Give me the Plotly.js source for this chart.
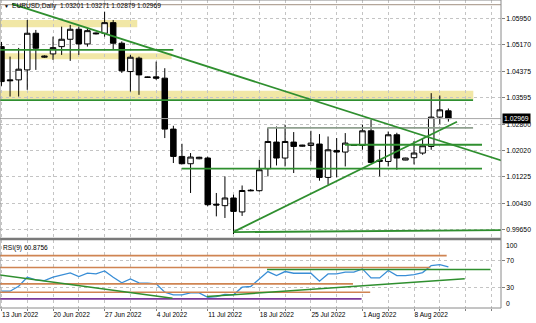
<!DOCTYPE html>
<html><head><meta charset="utf-8">
<script src="https://cdn.plot.ly/plotly-3.0.1.min.js"></script>
<style>html,body{margin:0;padding:0;background:#fff;}#chart{width:536px;height:323px;}</style>
</head><body><div id="chart"></div>
<script>
// ---- data (EURUSD Daily, MT4 broker with Sunday bars) ----
const barDates = ['2022-06-13','2022-06-14','2022-06-15','2022-06-16','2022-06-17','2022-06-19',
'2022-06-20','2022-06-21','2022-06-22','2022-06-23','2022-06-24','2022-06-26',
'2022-06-27','2022-06-28','2022-06-29','2022-06-30','2022-07-01','2022-07-03',
'2022-07-04','2022-07-05','2022-07-06','2022-07-07','2022-07-08','2022-07-10',
'2022-07-11','2022-07-12','2022-07-13','2022-07-14','2022-07-15','2022-07-17',
'2022-07-18','2022-07-19','2022-07-20','2022-07-21','2022-07-22','2022-07-24',
'2022-07-25','2022-07-26','2022-07-27','2022-07-28','2022-07-29','2022-07-31',
'2022-08-01','2022-08-02','2022-08-03','2022-08-04','2022-08-05','2022-08-07',
'2022-08-08','2022-08-09','2022-08-10','2022-08-11','2022-08-12'];
const openP = [1.05120,1.04126,1.04126,1.04424,1.05519,1.04803,1.04902,1.05120,1.05340,1.05639,1.05200,1.05528,
1.05519,1.05836,1.05221,1.04374,1.04774,1.04213,1.04216,1.04177,1.02655,1.01838,1.01620,1.01769,
1.01790,1.00411,1.00367,1.00596,1.00180,1.00829,1.00814,1.01471,1.02267,1.01790,1.02267,1.02142,
1.02166,1.02208,1.01211,1.02017,1.01969,1.02187,1.02166,1.02604,1.01688,1.01688,1.02485,1.01730,
1.01800,1.01939,1.02136,1.03013,1.03201];
const highP = [1.05260,1.04821,1.05081,1.05916,1.05618,1.04857,1.05418,1.05716,1.05767,1.05716,1.05669,1.05543,
1.06164,1.05916,1.05275,1.04872,1.04821,1.04225,1.04672,1.04475,1.02754,1.02217,1.01939,1.01829,
1.01829,1.00746,1.01241,1.00695,1.00970,1.00859,1.01739,1.02685,1.02733,1.02783,1.02566,1.02187,
1.02604,1.02506,1.02434,1.02387,1.02536,1.02196,1.02783,1.02933,1.02037,1.02583,1.02545,1.01799,
1.02300,1.02366,1.03729,1.03658,1.03271];
const lowP = [1.03947,1.03628,1.03628,1.03828,1.04424,1.04783,1.04723,1.04872,1.04693,1.04872,1.05120,1.05484,
1.05418,1.05021,1.04335,1.03777,1.03679,1.04186,1.04126,1.02387,1.01641,1.01605,1.00746,1.01754,
1.00352,1.00047,0.99999,0.99520,1.00060,1.00799,1.00784,1.01241,1.01569,1.01539,1.01342,1.02127,
1.01688,1.01113,1.00993,1.01211,1.01539,1.02157,1.02037,1.01635,1.01241,1.01539,1.01441,1.01724,
1.01600,1.01888,1.02037,1.02804,1.02879];
const closeP = [1.04075,1.04102,1.04445,1.05519,1.05072,1.04833,1.05090,1.05340,1.05639,1.05200,1.05597,1.05505,
1.05836,1.05221,1.04395,1.04803,1.04275,1.04201,1.04177,1.02655,1.01838,1.01620,1.01820,1.01814,
1.00396,1.00387,1.00596,1.00196,1.00820,1.00814,1.01441,1.02285,1.01790,1.02285,1.02136,1.02172,
1.02237,1.01211,1.02037,1.01969,1.02237,1.02166,1.02604,1.01659,1.01724,1.02485,1.01790,1.01790,
1.01940,1.02157,1.03013,1.03231,1.02969];
const rsi9 = [24.9,24.9,32.3,45.7,41.7,40.7,45.7,49.1,52.1,46.7,51.6,50.6,
55.1,45.7,37.3,43.2,37.3,36.8,35.8,23.5,19.5,19.5,22.5,22.5,
16.0,17.0,20.0,19.5,30.9,31.9,43.2,54.1,48.1,54.1,51.6,51.6,
51.6,39.8,50.6,50.6,53.1,53.1,58.0,44.7,44.7,55.6,48.1,48.1,
49.6,52.6,63.0,64.4,60.8756];
const priceTicks = ['1.05950','1.05170','1.04375','1.03595','1.02800','1.02020','1.01225','1.00430','0.99650'];
const rsiLevels = [70, 30];
const rsiScale = [100, 0];
const monthNames = ['Jan','Feb','Mar','Apr','May','Jun','Jul','Aug','Sep','Oct','Nov','Dec'];

// drawn objects (bar position, price / RSI value)
const zoneEnd = [15.8, 19.8, 54.9];
const zoneLow = [1.05698, 1.04744, 1.03544];
const zoneHigh = [1.05916, 1.04923, 1.03798];
const levelPrice = [1.05021, 1.03520, 1.02694, 1.02187, 1.01471];
const levelFrom = [-0.5, -0.5, 30.93, 39.97, 20.97];
const levelTo = [20.0, 54.87, 54.87, 55.91, 55.91];
const levelGray = [false, false, true, false, false];
const trendFromBar = [1.23, 27.0, 27.0];
const trendFromPrice = [1.06394, 0.99582, 0.99576];
const trendToBar = [58.2, 53.0, 58.2];
const trendToPrice = [1.01713, 1.02873, 0.99636];
const topLinePrice = 1.06373;
const rsiHLevel = [77.8, 60.0, 35.8, 23.4, 13.6];
const rsiHTo = [51.8, 49.9, 40.9, 42.9, 41.9];
const rsiHPurple = [false, false, false, false, true];
const rsiTrendFromBar = [-0.5, 23.9, 30.9];
const rsiTrendFromVal = [49.6, 17.0, 57.0];
const rsiTrendToBar = [19.9, 53.9, 56.9];
const rsiTrendToVal = [14.5, 43.3, 57.0];

// ---- build ----
const idx = barDates.map((d, i) => i);
const last = barDates.length - 1;
const tickIdx = [], tickTxt = [];
barDates.forEach((d, i) => {
  const dt = new Date(d + 'T00:00:00Z');
  if (dt.getUTCDay() === 1) { tickIdx.push(i); tickTxt.push(dt.getUTCDate() + ' ' + monthNames[dt.getUTCMonth()] + ' ' + dt.getUTCFullYear()); }
});

const GREEN = '#2f8f2f', GRID = '#c4c4c4', ORANGE = '#cf8452', PURPLE = '#7b3a9a';
const traces = [
  {type:'candlestick', x:idx, open:openP, high:highP, low:lowP, close:closeP, xaxis:'x', yaxis:'y',
   increasing:{line:{color:'#000', width:1}, fillcolor:'#ffffff'},
   decreasing:{line:{color:'#000', width:1}, fillcolor:'#000000'},
   whiskerwidth:0, hoverinfo:'skip', showlegend:false},
  {type:'scatter', mode:'lines', x:idx, y:rsi9, xaxis:'x', yaxis:'y2',
   line:{color:'#3a8ed6', width:1.3}, hoverinfo:'skip', showlegend:false}
];

const shapes = [];
zoneEnd.forEach((e, k) => shapes.push({type:'rect', xref:'x', yref:'y', x0:-0.5, x1:e, y0:zoneLow[k], y1:zoneHigh[k],
  fillcolor:'#f1e7a6', line:{width:0}, layer:'below'}));
shapes.push({type:'line', xref:'paper', yref:'y', x0:0, x1:1, y0:topLinePrice, y1:topLinePrice, line:{color:'#b4a69a', width:1.2}});
shapes.push({type:'line', xref:'paper', yref:'y', x0:0, x1:1, y0:closeP[last], y1:closeP[last], line:{color:'#a8a8a8', width:1}});
levelPrice.forEach((p, k) => shapes.push({type:'line', xref:'x', yref:'y', x0:levelFrom[k], x1:levelTo[k], y0:p, y1:p,
  line:{color: levelGray[k] ? '#8fa08f' : GREEN, width:1.8}}));
trendFromBar.forEach((b, k) => shapes.push({type:'line', xref:'x', yref:'y', x0:b, x1:trendToBar[k], y0:trendFromPrice[k], y1:trendToPrice[k],
  line:{color:GREEN, width:1.8}}));
rsiHLevel.forEach((v, k) => shapes.push({type:'line', xref:'x', yref:'y2', x0:-0.5, x1:rsiHTo[k], y0:v, y1:v,
  line:{color: rsiHPurple[k] ? PURPLE : ORANGE, width:1.6}}));
rsiTrendFromBar.forEach((b, k) => shapes.push({type:'line', xref:'x', yref:'y2', x0:b, x1:rsiTrendToBar[k], y0:rsiTrendFromVal[k], y1:rsiTrendToVal[k],
  line:{color:GREEN, width:1.5}}));
// panel separator and frame
shapes.push({type:'line', xref:'paper', yref:'paper', x0:0, x1:1, y0:0.2237, y1:0.2237, line:{color:'#7a7a7a', width:2.5}});
shapes.push({type:'rect', xref:'paper', yref:'paper', x0:0, x1:1, y0:0, y1:1, line:{color:'#8a8a8a', width:1}, fillcolor:'rgba(0,0,0,0)'});

const FONT = 'Liberation Sans, Arial, sans-serif';
const annotations = [
  {xref:'paper', yref:'paper', x:0, y:1, xanchor:'left', yanchor:'top', xshift:2, yshift:-1, showarrow:false,
   text:'▼', font:{size:5, color:'#000', family:FONT}},
  {xref:'paper', yref:'paper', x:0, y:1, xanchor:'left', yanchor:'top', xshift:10, yshift:0, showarrow:false,
   text:'EURUSD,Daily  ' + [openP[last], highP[last], lowP[last], closeP[last]].map(v => v.toFixed(5)).join(' '),
   font:{size:6.6, color:'#000', family:FONT}},
  {xref:'paper', yref:'paper', x:0, y:0.2204, xanchor:'left', yanchor:'top', xshift:1, yshift:-2, showarrow:false,
   text:'RSI(9) ' + rsi9[last].toFixed(4), font:{size:6.6, color:'#000', family:FONT}},
  {xref:'paper', yref:'y', x:1, y:closeP[last], xanchor:'left', yanchor:'middle', xshift:1, showarrow:false,
   text:closeP[last].toFixed(5), bgcolor:'#000', borderpad:1, font:{size:6.8, color:'#fff', family:FONT}},
  {xref:'paper', yref:'y2', x:1, y:rsiScale[0], xanchor:'left', yanchor:'middle', xshift:3, yshift:-5, showarrow:false,
   text:String(rsiScale[0]), font:{size:6.8, color:'#000', family:FONT}},
  {xref:'paper', yref:'y2', x:1, y:rsiScale[1], xanchor:'left', yanchor:'middle', xshift:3, yshift:4, showarrow:false,
   text:String(rsiScale[1]), font:{size:6.8, color:'#000', family:FONT}}
];

const layout = {
  width:536, height:323,
  margin:{l:0, r:35, t:0, b:14.5, pad:0},
  paper_bgcolor:'#ffffff', plot_bgcolor:'#ffffff',
  showlegend:false, boxgap:0.36, boxgroupgap:0,
  font:{family:FONT, size:6.8, color:'#000'},
  xaxis:{range:[-0.17, 58.12], anchor:'y2', tickmode:'array', tickvals:tickIdx, ticktext:tickTxt,
    ticklabelposition:'outside right', ticks:'outside', ticklen:2, tickcolor:'#808080', tickfont:{size:6.6},
    showgrid:true, gridcolor:GRID, griddash:'dot', gridwidth:1,
    minor:{tick0:0, dtick:3, showgrid:true, gridcolor:GRID, griddash:'dot', gridwidth:1, ticks:'outside', ticklen:2, tickcolor:'#808080'},
    rangeslider:{visible:false}, zeroline:false, showline:false, fixedrange:true},
  yaxis:{domain:[0.2269, 1], range:[0.99397, 1.06513], side:'right', anchor:'x',
    tickmode:'array', tickvals:priceTicks.map(Number), ticktext:priceTicks,
    ticks:'outside', ticklen:3, tickcolor:'#808080', showgrid:true, gridcolor:GRID, griddash:'dot', gridwidth:1,
    zeroline:false, showline:false, fixedrange:true},
  yaxis2:{domain:[0, 0.2204], range:[0, 100.74], side:'right', anchor:'x',
    tickmode:'array', tickvals:rsiLevels, ticktext:rsiLevels.map(String),
    ticks:'outside', ticklen:3, tickcolor:'#808080', showgrid:true, gridcolor:GRID, griddash:'dot', gridwidth:1,
    zeroline:false, showline:false, fixedrange:true},
  shapes:shapes, annotations:annotations
};

Plotly.newPlot('chart', traces, layout, {staticPlot:true, displayModeBar:false});
</script>
</body></html>
